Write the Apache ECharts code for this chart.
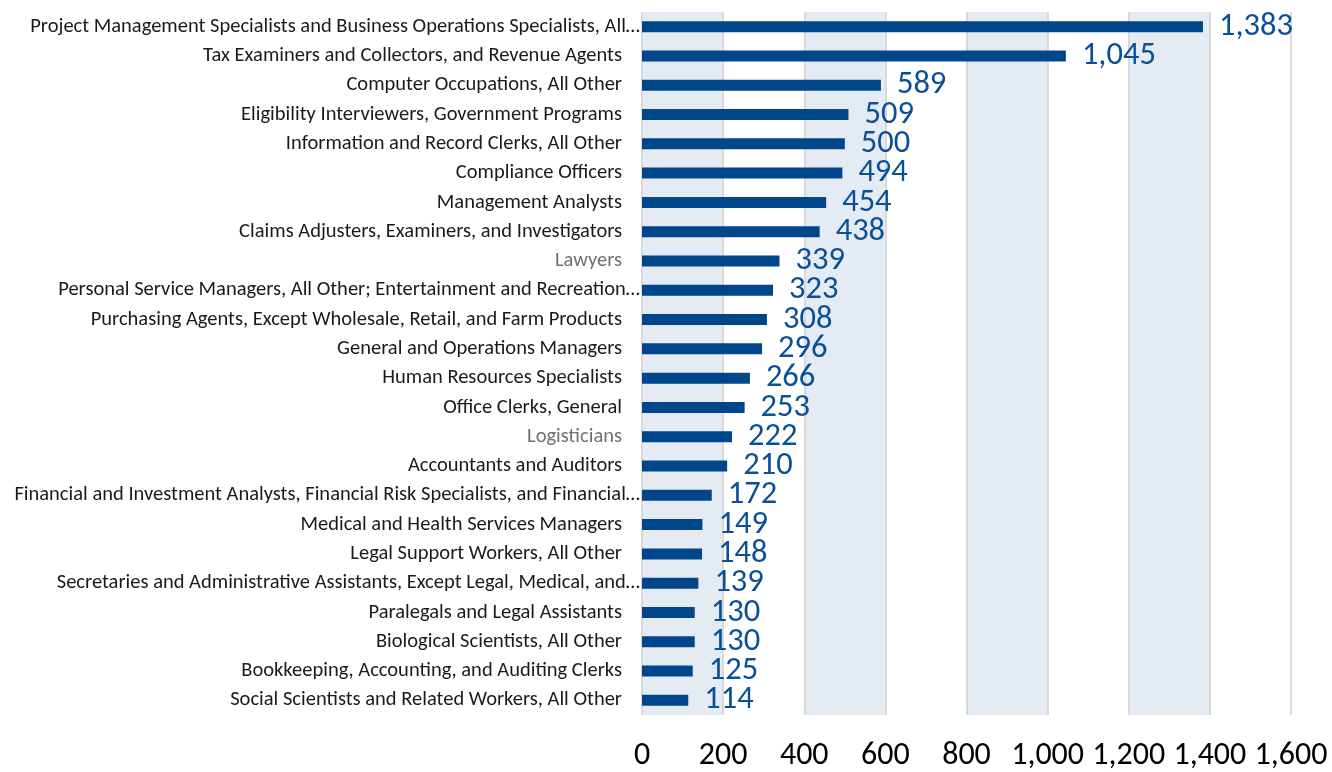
<!DOCTYPE html>
<html>
<head>
<meta charset="utf-8">
<script src="https://cdn.jsdelivr.net/npm/echarts@6/dist/echarts.min.js"></script>
<style>html,body{margin:0;padding:0;background:#fff;}#c{width:1332px;height:772px;}</style>
</head>
<body>
<div id="c"></div>
<script>
const categories = [
  "Project Management Specialists and Business Operations Specialists, All…",
  "Tax Examiners and Collectors, and Revenue Agents",
  "Computer Occupations, All Other",
  "Eligibility Interviewers, Government Programs",
  "Information and Record Clerks, All Other",
  "Compliance Officers",
  "Management Analysts",
  "Claims Adjusters, Examiners, and Investigators",
  "Lawyers",
  "Personal Service Managers, All Other; Entertainment and Recreation…",
  "Purchasing Agents, Except Wholesale, Retail, and Farm Products",
  "General and Operations Managers",
  "Human Resources Specialists",
  "Office Clerks, General",
  "Logisticians",
  "Accountants and Auditors",
  "Financial and Investment Analysts, Financial Risk Specialists, and Financial…",
  "Medical and Health Services Managers",
  "Legal Support Workers, All Other",
  "Secretaries and Administrative Assistants, Except Legal, Medical, and…",
  "Paralegals and Legal Assistants",
  "Biological Scientists, All Other",
  "Bookkeeping, Accounting, and Auditing Clerks",
  "Social Scientists and Related Workers, All Other"
];
const values = [1383, 1045, 589, 509, 500, 494, 454, 438, 339, 323, 308, 296, 266, 253, 222, 210, 172, 149, 148, 139, 130, 130, 125, 114];
const grayLabels = ["Lawyers", "Logisticians"];
const xTicks = [0, 200, 400, 600, 800, 1000, 1200, 1400, 1600];

const FONT = 'Carlito, "Open Sans", sans-serif';
const CAT_SIZE = 20.5;
const chart = echarts.init(document.getElementById('c'), null, {renderer: 'canvas'});
chart.setOption({
  animation: false,
  grid: {left: 642, right: 41, top: 12, bottom: 54, containLabel: false},
  xAxis: {
    type: 'value', min: xTicks[0], max: xTicks[xTicks.length - 1], interval: 200,
    axisLine: {show: false}, axisTick: {show: false},
    splitLine: {show: true, lineStyle: {color: '#D9D9D9', width: 2}},
    splitArea: {show: true, areaStyle: {color: ['#E4EBF3', 'rgba(255,255,255,0)']}},
    axisLabel: {
      margin: 25, fontFamily: FONT, fontSize: 32, color: '#000',
      formatter: v => v.toLocaleString('en-US')
    }
  },
  yAxis: {
    type: 'category', data: categories, inverse: true,
    axisLine: {show: false}, axisTick: {show: false},
    axisLabel: {
      margin: 2, fontFamily: FONT, fontSize: CAT_SIZE,
      formatter: (v) => {
        const g = grayLabels.includes(v);
        const t = v.endsWith('…');
        return '{' + (g ? 'g' : 'n') + (t ? 't' : 'p') + '|' + v + '}';
      },
      rich: {
        np: {color: '#1a1a1a', fontFamily: FONT, fontSize: CAT_SIZE, padding: [0, 18, 0, 0]},
        nt: {color: '#1a1a1a', fontFamily: FONT, fontSize: CAT_SIZE},
        gp: {color: '#707070', fontFamily: FONT, fontSize: CAT_SIZE, padding: [0, 18, 0, 0]},
        gt: {color: '#707070', fontFamily: FONT, fontSize: CAT_SIZE}
      }
    }
  },
  series: [{
    type: 'bar', data: values, barWidth: 11,
    itemStyle: {color: '#00468B'},
    label: {
      show: true, position: 'right', distance: 16,
      fontFamily: FONT, fontSize: 32.5, color: '#0B4F96',
      formatter: p => p.value.toLocaleString('en-US')
    }
  }]
});
</script>
</body>
</html>
